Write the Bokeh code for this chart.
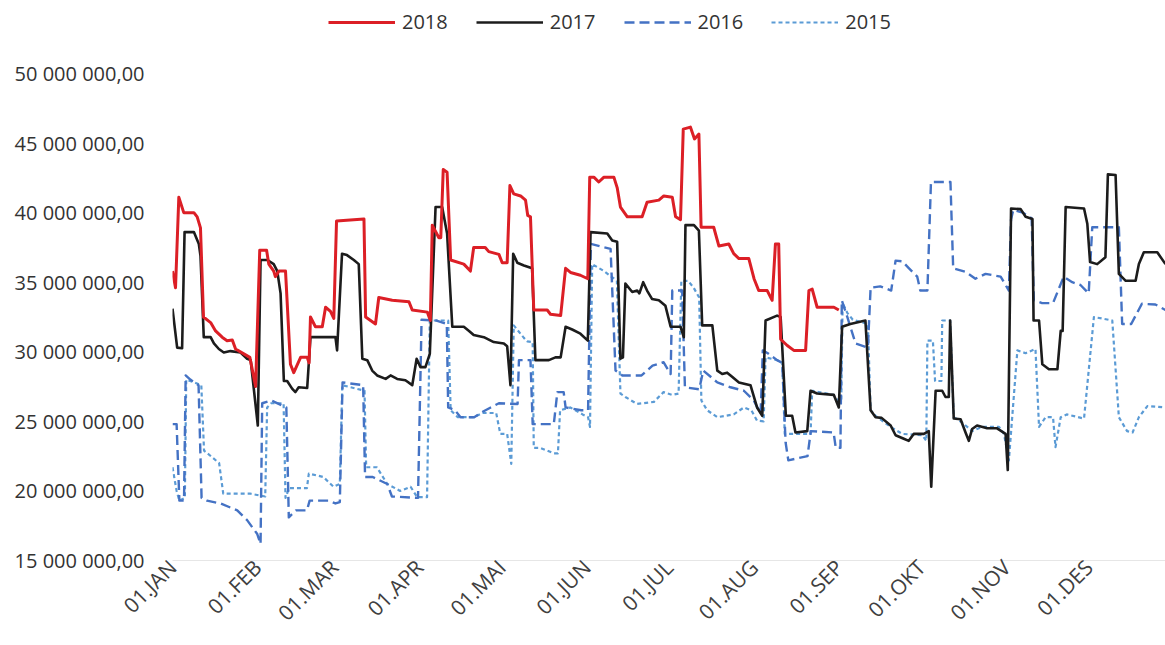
import math
import numpy as np
from bokeh.plotting import figure
from bokeh.models import Range1d, FixedTicker, Legend, LegendItem
from bokeh.embed import file_html
from bokeh.resources import INLINE

# ---- data (day of year from 01.JAN = 0, values in millions) ----
month_ticks = [0, 31, 59, 90, 120, 151, 181, 212, 243, 273, 304, 334]
month_labels = ["01.JAN", "01.FEB", "01.MAR", "01.APR", "01.MAI", "01.JUN",
                "01.JUL", "01.AUG", "01.SEP", "01.OKT", "01.NOV", "01.DES"]
y_ticks_m = [15, 20, 25, 30, 35, 40, 45, 50]
series_names = ["2018", "2017", "2016", "2015"]

d2018 = [0, 1.1, 2.3, 4.1, 7.8, 9, 10.2, 11.3, 13.9, 15.7, 18.1, 19.9, 21.8, 23, 26, 28.2, 30.3, 31.8, 34.3,
         35.1, 36.9, 37.5, 38.8, 41.2, 43, 44.2, 46.7, 49.1, 49.8, 50.3, 52.1, 54.6, 55.8, 57.6, 58.8, 59.8,
         69.8, 70.4, 74, 75.2, 80.1, 86.2, 87.4, 92.9, 94, 94.7, 97.1, 97.8, 98.7, 100.1, 101.4, 106.2, 108.6,
         109.8, 114, 115.3, 119, 120.2, 122, 123, 124.4, 126.9, 128.7, 129.5, 130.5, 131.7, 136.6, 137.8, 141.5,
         143.3, 145.1, 148.7, 151.4, 152.1, 153.6, 155.4, 157.3, 160.9, 162.1, 163.3, 165.8, 171.2, 173, 177.3,
         179.1, 182.2, 183.4, 185.2, 186.2, 188.8, 190.3, 191.9, 192.7, 197.3, 199.2, 202.8, 204.6, 206.5,
         210.1, 212, 213.7, 216.8, 218.6, 219.8, 221, 221.7, 224.1, 226.5, 230.8, 232, 233.2, 235, 241.1, 242.9]
v2018 = [35.8, 34.6, 41.1, 40.0, 40.0, 39.7, 38.9, 32.5, 32.1, 31.5, 31.05, 30.8, 30.85, 30.2, 29.85, 29.6, 27.5,
         37.3, 37.3, 36.3, 35.8, 35.4, 35.8, 35.8, 29.1, 28.5, 29.6, 29.6, 29.2, 32.5, 31.8, 31.8, 33.2, 32.9,
         32.4, 39.4, 39.55, 32.5, 32.0, 33.9, 33.7, 33.6, 33.0, 32.85, 32.25, 39.1, 38.2, 38.2, 43.1, 42.9, 36.6,
         36.3, 35.8, 37.5, 37.5, 37.2, 37.0, 36.4, 36.4, 41.95, 41.35, 41.2, 40.9, 39.8, 39.7, 33.0, 33.0, 32.7,
         32.6, 36.0, 35.7, 35.5, 35.25, 42.55, 42.55, 42.2, 42.55, 42.55, 41.8, 40.4, 39.7, 39.7, 40.75, 40.9,
         41.2, 41.1, 39.7, 39.5, 46.0, 46.15, 45.3, 45.65, 38.95, 38.95, 37.6, 37.75, 37.05, 36.7, 36.7, 35.25,
         34.4, 34.4, 33.7, 37.75, 37.75, 30.9, 30.45, 30.1, 30.1, 34.4, 34.5, 33.2, 33.2, 33.0]

d2017 = [0, 1.7, 3.5, 4.4, 7.8, 9.6, 10.2, 11.4, 13.9, 15.1, 16.9, 18.7, 21.1, 24.8, 27.2, 28.5, 31.1, 32.1,
         34.5, 36.9, 38.2, 39.4, 40.6, 41.8, 43.6, 44.8, 46, 49.1, 50.3, 59.4, 60, 61.8, 63.6, 66.1, 67.9, 69.2,
         71, 72.8, 74.6, 77.7, 79.5, 81.9, 84.9, 87.4, 89, 90.4, 92.2, 93.8, 95.9, 98.3, 100.1, 102, 106.2,
         108.1, 109.8, 113.5, 117.1, 120.8, 122, 123.2, 124.2, 125.7, 128.1, 131.1, 132.3, 137.2, 139.6, 141.5,
         143.3, 145.7, 148.7, 151.4, 152.4, 158.5, 160.3, 162.1, 163.3, 164.2, 165.1, 167.6, 169.4, 170.2,
         171.6, 173, 174.8, 177.3, 179.7, 181.6, 185.2, 186.4, 187, 190.1, 191.9, 193.1, 196.8, 198.6, 200.4,
         202.2, 204, 206.5, 210.7, 213.1, 215, 216.2, 220.4, 221.7, 223.6, 225.9, 227.1, 231.4, 232.6, 235,
         241.1, 242.9, 244.1, 247.1, 252.6, 254.5, 256.3, 258.5, 261.8, 263.6, 266.6, 268.4, 270.2, 273.9,
         275.7, 276.6, 278.2, 280.6, 281.8, 283, 283.5, 284.8, 287.3, 289.1, 290.3, 291.5, 293.3, 297, 300.6,
         303.7, 304.5, 305.7, 309.2, 311, 313.5, 313.9, 315.9, 317.1, 319.5, 322.6, 323.8, 324.5, 325.6, 332.3,
         333.5, 334.5, 337.1, 340.1, 341, 343.8, 345, 347.5, 351.1, 352.3, 354.1, 359, 362]
v2017 = [33.1, 30.3, 30.25, 38.6, 38.6, 37.75, 36.9, 31.05, 31.05, 30.6, 30.2, 29.95, 30.05, 29.95, 29.5, 29.4,
         24.7, 36.6, 36.6, 36.3, 35.8, 34.2, 27.9, 27.9, 27.35, 27.1, 27.45, 27.4, 31.05, 31.05, 30.1, 37.05,
         36.95, 36.6, 36.3, 29.5, 29.4, 28.65, 28.3, 28.05, 28.3, 28.05, 27.95, 27.6, 29.5, 28.9, 28.9, 29.85,
         40.4, 40.4, 38.5, 31.8, 31.8, 31.5, 31.2, 31.05, 30.7, 30.6, 30.4, 27.6, 37.05, 36.4, 36.2, 36.0, 29.4,
         29.4, 29.6, 29.6, 31.8, 31.6, 31.3, 30.8, 38.6, 38.5, 38.0, 37.9, 29.5, 29.6, 34.9, 34.3, 34.4, 34.2,
         35.0, 34.4, 33.8, 33.7, 33.3, 31.8, 31.8, 31.05, 39.1, 39.1, 38.7, 31.9, 31.9, 28.65, 28.4, 28.5, 28.2,
         27.8, 27.6, 26.0, 25.4, 32.25, 32.6, 32.5, 25.4, 25.4, 24.2, 24.3, 27.2, 27.0, 26.9, 26.0, 31.8, 32.0,
         32.25, 25.8, 25.3, 25.25, 24.7, 24.0, 23.75, 23.6, 24.1, 24.1, 24.3, 20.3, 27.2, 27.2, 26.75, 26.75,
         32.25, 25.2, 25.15, 24.2, 23.6, 24.45, 24.7, 24.5, 24.5, 24.1, 21.5, 40.3, 40.25, 39.7, 39.55, 32.25,
         32.25, 29.1, 28.75, 28.75, 31.5, 31.5, 40.4, 40.3, 39.2, 36.45, 36.3, 36.8, 42.75, 42.7, 35.6, 35.1,
         35.1, 36.3, 37.15, 37.15, 36.3]

d2016 = [0, 1.5, 2.5, 4.2, 4.8, 6.5, 9.5, 10.6, 12.6, 17.5, 23.6, 27.2, 30.9, 32.1, 32.7, 36, 41.5, 42.4, 45,
         49, 50, 57, 59.4, 61, 62, 69.5, 70.2, 73, 78.3, 80, 89.5, 90.8, 96, 100, 100.5, 103, 105, 110, 112.3,
         116, 119, 125.8, 126.3, 130.5, 131.3, 139, 140.3, 142.6, 143.3, 149, 151.5, 152.5, 159.7, 161.5, 164,
         171, 175, 179, 181.6, 182.2, 185.8, 186.8, 192, 193.5, 198.6, 203.4, 208.3, 211.9, 214.4, 215.2, 217,
         220.4, 222.3, 223.5, 224.5, 231.5, 232.7, 241, 241.8, 243.5, 244, 246, 249, 253.5, 254.5, 258, 262,
         263.6, 266, 268.5, 271.5, 272.6, 275.2, 276.5, 283.6, 284.6, 289.1, 292.7, 296.4, 301.9, 304.9, 305.7,
         306.5, 310, 313.2, 314, 317, 321, 324.9, 328, 331, 334, 335.3, 345, 346.2, 349.5, 353.4, 358.3, 362]
v2016 = [24.8, 24.8, 19.3, 19.3, 28.3, 28.0, 27.6, 19.5, 19.3, 19.1, 18.6, 17.9, 16.9, 16.2, 26.3, 26.5, 26.0,
         18.1, 18.6, 18.6, 19.3, 19.3, 19.1, 19.2, 27.8, 27.6, 21.0, 21.0, 20.5, 19.6, 19.5, 32.3, 32.25, 32.0,
         26.0, 25.8, 25.3, 25.3, 25.6, 26.0, 26.3, 26.25, 29.4, 29.4, 24.8, 24.8, 27.1, 27.1, 26.0, 25.8, 25.8,
         37.75, 37.4, 28.65, 28.3, 28.3, 29.0, 29.25, 28.4, 34.4, 34.4, 27.45, 27.3, 28.65, 27.8, 27.45, 27.2,
         26.5, 25.55, 30.1, 29.9, 29.4, 29.2, 23.5, 22.2, 22.5, 24.3, 24.2, 23.1, 23.1, 33.7, 32.5, 30.6, 30.3,
         34.6, 34.7, 34.4, 36.55, 36.5, 36.0, 35.4, 34.4, 34.4, 42.2, 42.2, 36.0, 35.75, 35.25, 35.6, 35.4, 34.4,
         39.5, 40.2, 40.0, 39.6, 33.7, 33.5, 33.5, 35.4, 35.0, 34.8, 34.2, 38.95, 38.95, 32.0, 32.0, 33.45, 33.4,
         33.0]

d2015 = [0, 1.5, 2.5, 4.5, 5, 8, 10.5, 11.5, 17, 18.5, 28.5, 33.8, 34.5, 36, 40.5, 41.2, 42.5, 49, 49.7, 55,
         58.7, 61, 61.9, 70, 70.6, 74.5, 78.3, 83, 86.8, 89.2, 92.8, 93.8, 100.5, 101.4, 104, 110, 113, 118,
         119.5, 122, 123.5, 124.4, 128.1, 129.3, 131.3, 131.7, 134, 139, 140.5, 141.3, 145, 149.5, 151.5, 152.2,
         153, 157.3, 162, 163.3, 165.1, 169.4, 175.5, 179, 182.2, 184.5, 185.5, 188, 190, 192, 192.8, 194.9,
         198.6, 204.6, 208.3, 211, 213.1, 215.5, 216.2, 220.4, 222.3, 223.2, 232.6, 233.2, 241, 242.5, 243.8,
         244.3, 246, 248, 253.5, 254.5, 256.3, 261.8, 266, 273.3, 274.8, 275.2, 277.2, 278, 280.3, 280.6, 283.5,
         284.8, 288, 291.5, 295.2, 301.3, 303.1, 304.9, 308, 311, 314.6, 315.9, 318.3, 321, 321.9, 323.8, 326,
         332.3, 335.9, 342.6, 345, 348, 350, 352.3, 355.4, 362]
v2015 = [21.7, 20.0, 19.3, 19.5, 28.0, 27.8, 27.6, 22.9, 22.0, 19.8, 19.8, 19.6, 26.0, 26.3, 26.3, 19.5, 20.2,
         20.2, 21.25, 21.0, 20.3, 20.5, 27.6, 27.2, 21.7, 21.7, 20.5, 20.0, 20.3, 19.55, 19.55, 32.25, 32.25,
         25.8, 25.3, 25.3, 25.6, 25.6, 24.1, 24.1, 21.95, 31.9, 31.0, 30.75, 30.7, 23.1, 23.1, 22.7, 22.7, 25.8,
         26.0, 25.5, 25.3, 24.6, 36.3, 35.8, 35.1, 27.0, 26.75, 26.25, 26.4, 27.1, 26.9, 27.0, 35.1, 35.1, 34.6,
         33.9, 26.5, 25.8, 25.3, 25.5, 26.0, 25.8, 25.05, 25.0, 29.6, 29.4, 29.2, 24.1, 24.1, 27.2, 26.9, 26.5,
         26.5, 33.5, 32.8, 32.3, 32.0, 25.8, 25.4, 24.6, 24.1, 24.0, 23.6, 30.8, 30.8, 27.9, 27.9, 32.25, 32.25,
         25.3, 24.9, 24.3, 24.6, 24.6, 24.1, 22.2, 30.1, 29.9, 30.2, 24.6, 25.3, 25.3, 23.15, 25.3, 25.5, 25.2,
         32.5, 32.25, 25.3, 24.3, 24.2, 25.3, 26.1, 26.0]

MILLION = 1_000_000
Y_MIN, Y_TOP = 15 * MILLION, 55.246 * MILLION  # top margin of the frame holds the legend


def fmt_no(v):
    return f"{v:,.2f}".replace(",", " ").replace(".", ",")


FONT = "Open Sans"
p = figure(width=1165, height=645, output_backend="svg", toolbar_location=None,
           x_range=Range1d(0, 362), y_range=Range1d(Y_MIN, Y_TOP),
           min_border_left=172, min_border_right=0, min_border_top=0, min_border_bottom=85)
p.outline_line_color = None
p.xgrid.visible = False
p.ygrid.visible = False
p.background_fill_color = "white"

styles = {
    "2015": dict(color="#5B9BD5", line_width=2.2, line_dash="4 3"),
    "2016": dict(color="#4472C4", line_width=2.4, line_dash="10 5"),
    "2017": dict(color="#1c1c1c", line_width=2.6, line_dash="solid"),
    "2018": dict(color="#DC1F26", line_width=3.0, line_dash="solid"),
}
data = {"2015": (d2015, v2015), "2016": (d2016, v2016), "2017": (d2017, v2017), "2018": (d2018, v2018)}
renderers = {}
for name in ["2015", "2016", "2017", "2018"]:
    dd, vv = data[name]
    st = styles[name]
    renderers[name] = p.line(dd, np.array(vv) * MILLION, line_color=st["color"], line_width=st["line_width"],
                             line_dash=st["line_dash"], line_join="round")

# y axis
yt = [v * MILLION for v in y_ticks_m]
p.yaxis.ticker = FixedTicker(ticks=yt)
p.yaxis.major_label_overrides = {t: fmt_no(t) for t in yt}
p.yaxis.axis_line_color = None
p.yaxis.major_tick_line_color = None
p.yaxis.minor_tick_line_color = None
p.yaxis.major_label_standoff = 22
p.yaxis.major_label_text_font = FONT
p.yaxis.major_label_text_font_size = "20px"
p.yaxis.major_label_text_color = "#333333"

# x axis
p.xaxis.ticker = FixedTicker(ticks=month_ticks)
p.xaxis.major_label_overrides = {t: l for t, l in zip(month_ticks, month_labels)}
p.xaxis.major_label_orientation = math.pi / 4
p.xaxis.axis_line_color = "#e6e6e6"
p.xaxis.major_tick_line_color = None
p.xaxis.minor_tick_line_color = None
p.xaxis.major_tick_out = 0
p.xaxis.major_label_standoff = 3
p.xaxis.major_label_text_font = FONT
p.xaxis.major_label_text_font_size = "21px"
p.xaxis.major_label_text_color = "#404040"

legend = Legend(items=[LegendItem(label=n, renderers=[renderers[n]]) for n in series_names],
                orientation="horizontal", location=(156, 525), glyph_width=67, glyph_height=20,
                label_standoff=7, spacing=28, padding=0, margin=0, border_line_color=None,
                background_fill_alpha=0, label_text_font=FONT, label_text_font_size="20px",
                label_text_color="#333333")
p.add_layout(legend, "center")

open("out.html", "w").write(file_html(p, INLINE))
